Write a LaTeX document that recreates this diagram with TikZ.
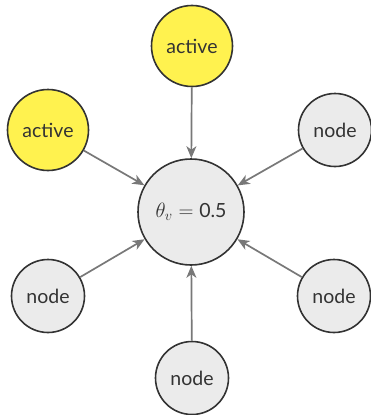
\documentclass[tikz,border=0pt]{standalone}
\usepackage{fontspec}
\setmainfont{Lato}
\usetikzlibrary{arrows.meta}
\definecolor{actfill}{HTML}{FFF24F}
\definecolor{nodefill}{HTML}{EBEBEB}
\definecolor{border}{HTML}{333333}
\definecolor{edgecol}{HTML}{787878}
\begin{document}
\begin{tikzpicture}[x=1pt,y=-1pt,
  base/.style={circle,draw=border,line width=1.6pt,text=border,inner sep=0pt,font=\fontsize{19.5}{22}\selectfont},
  actnode/.style={base,fill=actfill,minimum size=81pt},
  plainnode/.style={base,fill=nodefill,minimum size=73pt},
  centernode/.style={base,fill=nodefill,minimum size=106pt},
  edge/.style={draw=edgecol,line width=1.7pt,-{Stealth[length=12pt,width=10pt,inset=3.5pt]}}]
\useasboundingbox (0,0) rectangle (371,415);
\node[centernode] (c) at (191,212) {$\theta_v = \textrm{0.5}$};
\node[actnode] (t) at (192,46) {active};
\node[actnode] (tl) at (48,130) {active};
\node[plainnode] (tr) at (335,130) {node};
\node[plainnode] (bl) at (48,296) {node};
\node[plainnode] (br) at (334,296) {node};
\node[plainnode] (b) at (192,378) {node};
\foreach \n in {t,tl,tr,bl,br,b} \draw[edge] (\n) -- (c);
\end{tikzpicture}
\end{document}
